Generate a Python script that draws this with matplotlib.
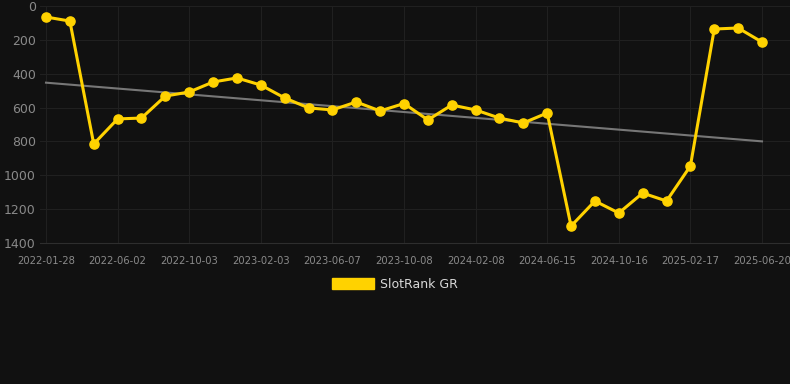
import numpy as np
import matplotlib.pyplot as plt
from matplotlib.patches import Patch

# rank values per point (lower = better, axis inverted)
rank = [65, 89, 815, 667, 662, 532, 508, 449, 425, 467, 543, 602, 614, 567, 620,
        576, 673, 585, 614, 662, 691, 632, 1300, 1152, 1223, 1105, 1152, 945,
        136, 130, 213]
tick_labels = ['2022-01-28', '2022-06-02', '2022-10-03', '2023-02-03', '2023-06-07',
               '2023-10-08', '2024-02-08', '2024-06-15', '2024-10-16', '2025-02-17',
               '2025-06-20']
series_name = 'SlotRank GR'

bg = '#111111'
gold = '#FFD200'

x = np.arange(len(rank))

fig = plt.figure(figsize=(7.9, 3.84), dpi=100, facecolor=bg)
ax = fig.add_axes([40/790, 1 - 243/384, 750/790, 237/384])
ax.set_facecolor(bg)

# trend line
k, b = np.polyfit(x, rank, 1)
ax.plot(x, k*x + b, color='#777777', lw=1.5, zorder=2)

ax.plot(x, rank, color=gold, lw=2.2, marker='o', ms=6.6, zorder=3)

ax.set_ylim(1400, 0)
ax.set_yticks(range(0, 1401, 200))
px = 716/30
ax.set_xlim(-6/px, 30 + 28/px)
ax.set_xticks(x[::3])
ax.set_xticklabels(tick_labels)

ax.grid(True, color='#202020', lw=0.8)
ax.set_axisbelow(True)
for s in ['top', 'right', 'left']:
    ax.spines[s].set_visible(False)
ax.spines['bottom'].set_color('#2e2e2e')
ax.tick_params(axis='both', length=0, colors='#8a8a8a')
ax.tick_params(axis='y', labelsize=9, pad=3)
ax.tick_params(axis='x', labelsize=7.2, pad=9)

fig.legend(handles=[Patch(color=gold, label=series_name)], loc='center',
           bbox_to_anchor=(0.5, 1 - 284/384), frameon=False, fontsize=9,
           labelcolor='#d8d8d8', handlelength=3.3, handleheight=1.0, handletextpad=0.5)

fig.savefig('out.png', facecolor=bg)
